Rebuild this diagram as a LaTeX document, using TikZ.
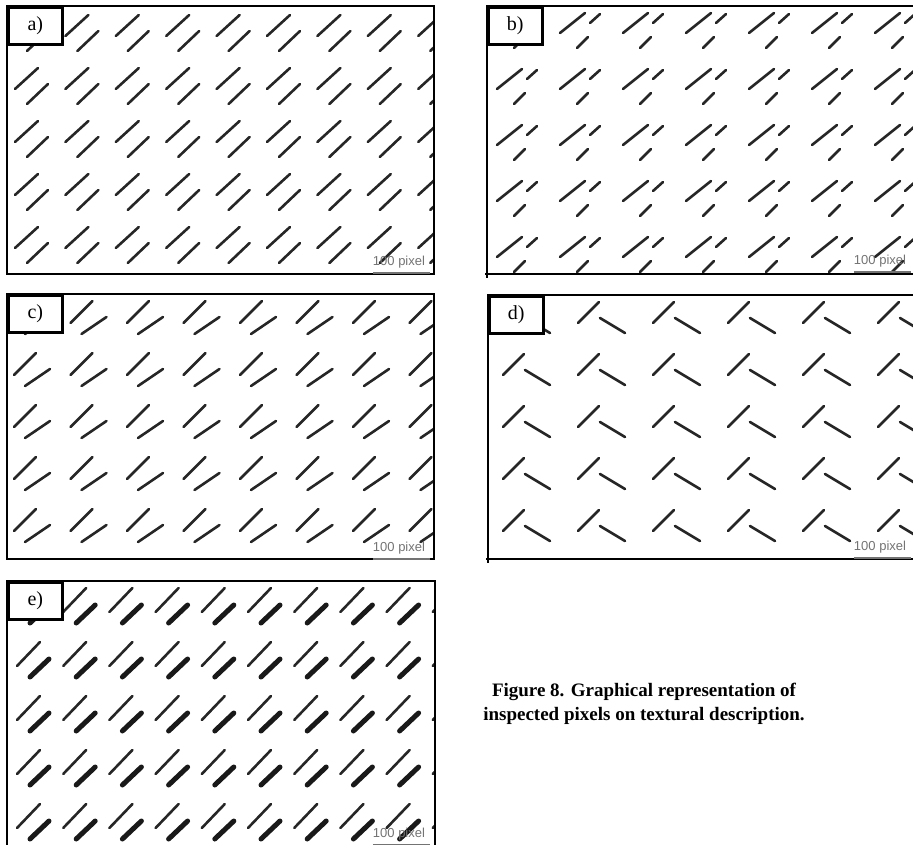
\documentclass[tikz,border=0pt]{standalone}
\usepackage{fontspec}
\setmainfont{Liberation Serif}
\newfontfamily\barfont{Liberation Sans}

\tikzset{
  stroke/.style={line width=2.6pt,line cap=round,black!85},
  fatstroke/.style={line width=5pt,line cap=round,black!90},
  frameline/.style={line width=2.6pt},
  labelbox/.style={draw,line width=2.6pt,fill=white,minimum width=54pt,minimum height=37pt,inner sep=0pt,font=\fontsize{20}{20}\selectfont},
  bartext/.style={font=\barfont\fontsize{13}{13}\selectfont,text=black!55,inner sep=0pt},
  scaleline/.style={line width=2pt,black!55}
}

\begin{document}
\begin{tikzpicture}[x=1pt,y=-1pt]
\useasboundingbox (0,0) rectangle (913,845);

% a)
\begin{scope}
\clip (7,6) rectangle (434,274);
\foreach \c in {0,...,8} \foreach \r in {0,...,4} {
  \draw[stroke] ({15+50.4*\c},{36+53*\r}) -- ++(23,-21);
  \draw[stroke] ({27+50.4*\c},{51+53*\r}) -- ++(21,-20);
}
\end{scope}
\draw[frameline] (7,6) rectangle (434,274);
\node[labelbox,anchor=north west] (laba) at (7,6) {a)};
\node[bartext] (bara) at (399,262) {100 pixel};
\draw[scaleline] (bara.south west) ++(0,5) -- ++(57,0);

% b)
\begin{scope}
\clip (487,6) rectangle (913,274);
\foreach \c in {0,...,6} \foreach \r in {0,...,4} {
  \draw[stroke] ({497+63*\c},{33+56*\r}) -- ++(25,-20);
  \draw[stroke] ({527+63*\c},{23+56*\r}) -- ++(10,-9);
  \draw[stroke] ({514+63*\c},{48+56*\r}) -- ++(11,-11);
}
\end{scope}
\draw[frameline] (913,6) -- (487,6) -- (487,278);
\draw[frameline] (485,274) -- (913,274);
\node[labelbox,anchor=north west] (labb) at (487,6) {b)};
\node[bartext] (barb) at (880,261) {100 pixel};
\draw[scaleline] (barb.south west) ++(0,5) -- ++(57,0);

% c)
\begin{scope}
\clip (7,294) rectangle (434,559);
\foreach \c in {0,...,7} \foreach \r in {0,...,4} {
  \draw[stroke] ({14+56.5*\c},{323+52*\r}) -- ++(22,-22);
  \draw[stroke] ({25+56.5*\c},{334+52*\r}) -- ++(25,-17);
}
\end{scope}
\draw[frameline] (7,294) rectangle (434,559);
\node[labelbox,anchor=north west] (labc) at (7,294) {c)};
\node[bartext] (barc) at (399,548) {100 pixel};
\draw[scaleline] (barc.south west) ++(0,5) -- ++(57,0);

% d)
\begin{scope}
\clip (488,295) rectangle (913,559);
\foreach \c in {0,...,5} \foreach \r in {0,...,4} {
  \draw[stroke] ({503+75*\c},{323+52*\r}) -- ++(21,-21);
  \draw[stroke] ({525+75*\c},{318+52*\r}) -- ++(25,15);
}
\end{scope}
\draw[frameline] (913,295) -- (488,295) -- (488,563);
\draw[frameline] (486,559) -- (913,559);
\node[labelbox,anchor=north west] (labd) at (488,295) {d)};
\node[bartext] (bard) at (880,547) {100 pixel};
\draw[scaleline] (bard.south west) ++(0,5) -- ++(57,0);

% e)
\begin{scope}
\clip (7,581) rectangle (435,845);
\foreach \c in {0,...,9} \foreach \r in {0,...,4} {
  \draw[stroke] ({17+46.2*\c},{612+54*\r}) -- ++(23,-24);
  \draw[fatstroke] ({30+46.2*\c},{623+54*\r}) -- ++(19,-18);
}
\end{scope}
\draw[frameline] (7,848) -- (7,581) -- (435,581) -- (435,848);
\node[labelbox,anchor=north west] (labe) at (7,581) {e)};
\node[bartext] (bare) at (399,834) {100 pixel};
\draw[scaleline] (bare.south west) ++(0,5) -- ++(57,0);

\node[font=\bfseries\fontsize{19}{24}\selectfont,align=center] (caption) at (644,704)
  {Figure 8. Graphical representation of\\inspected pixels on textural description.};
\end{tikzpicture}
\end{document}
